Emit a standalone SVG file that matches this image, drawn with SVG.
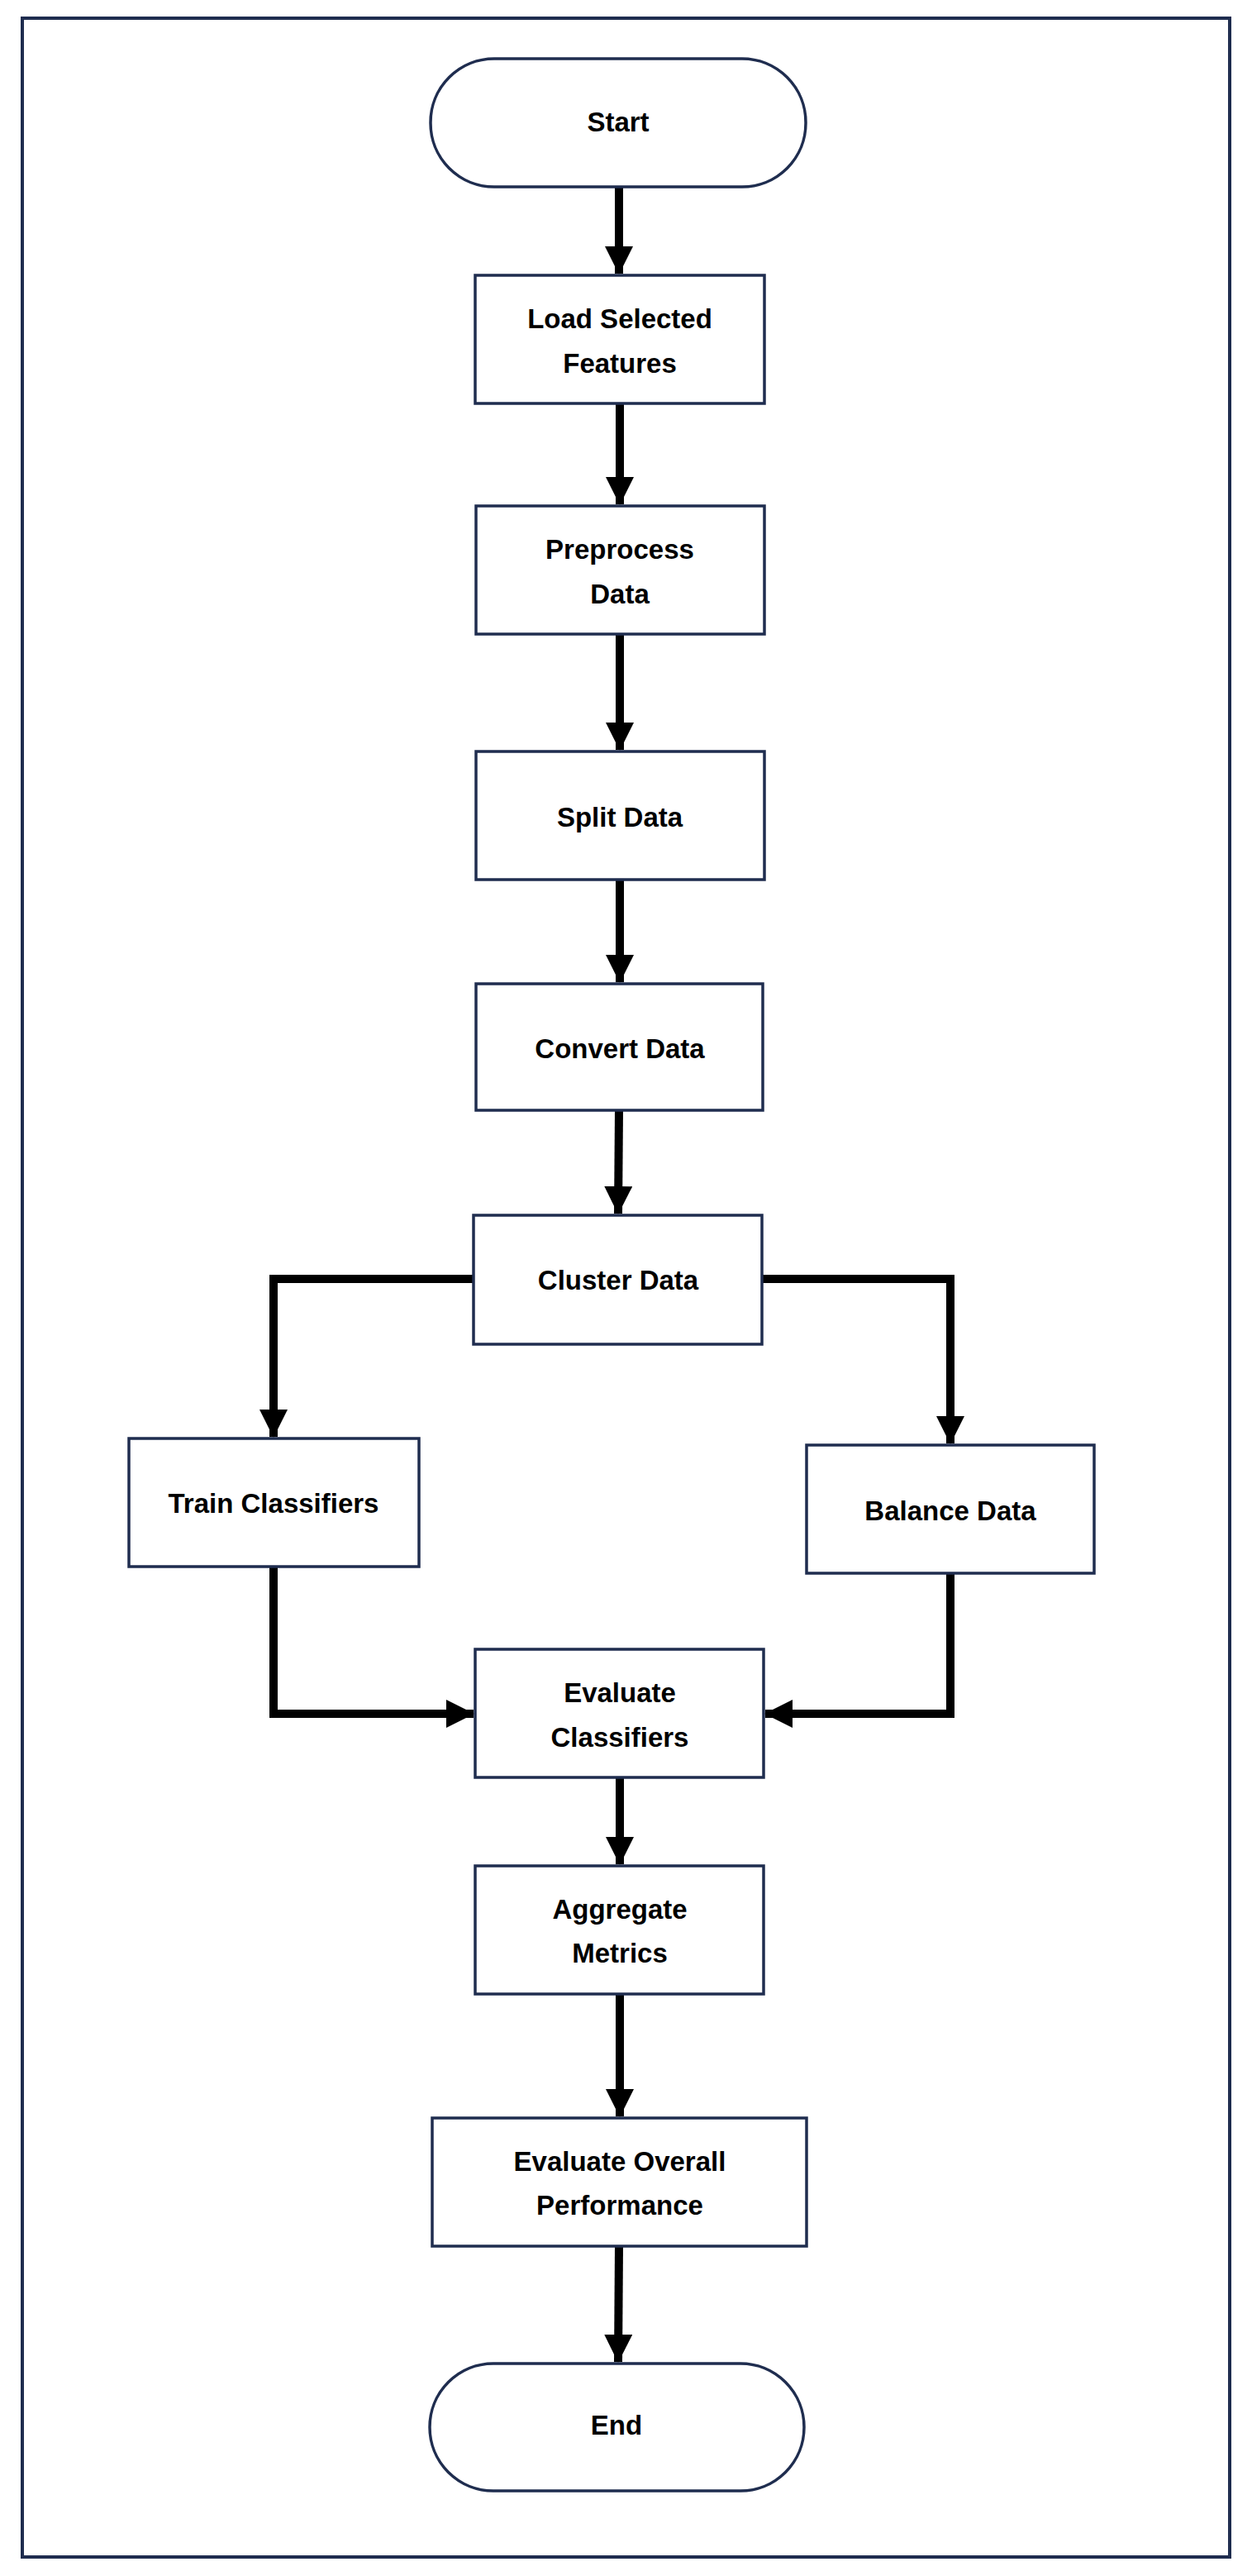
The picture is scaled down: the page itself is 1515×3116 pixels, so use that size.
<svg xmlns="http://www.w3.org/2000/svg" width="1515" height="3116" viewBox="0 0 1515 3116">
<style>
.b{fill:#fff;stroke:#1f2d4f;stroke-width:3.5}
.t{font-family:"Liberation Sans",Arial,sans-serif;font-weight:bold;font-size:33px;fill:#000;text-anchor:middle;dominant-baseline:central}
.c{fill:none;stroke:#000;stroke-width:10;stroke-linejoin:miter}
</style>
<defs>
<marker id="a" markerUnits="userSpaceOnUse" markerWidth="34" markerHeight="34" viewBox="0 0 34 34" refX="33" refY="17" orient="auto">
<path d="M0,0 L34,17 L0,34 Z" fill="#000"/>
</marker>
</defs>
<rect x="27" y="22" width="1461" height="3071" fill="#fff" stroke="#1f2d4f" stroke-width="4"/>
<g id="connectors">
<path class="c" d="M749,226 V331" marker-end="url(#a)"/>
<path class="c" d="M750,488 V610" marker-end="url(#a)"/>
<path class="c" d="M750,767 V907" marker-end="url(#a)"/>
<path class="c" d="M750,1064 V1188" marker-end="url(#a)"/>
<path class="c" d="M749,1343 L748,1468" marker-end="url(#a)"/>
<path class="c" d="M573,1547 H331 V1738" marker-end="url(#a)"/>
<path class="c" d="M922,1547 H1150 V1746" marker-end="url(#a)"/>
<path class="c" d="M331,1895 V2073 H573" marker-end="url(#a)"/>
<path class="c" d="M1150,1903 V2073 H926" marker-end="url(#a)"/>
<path class="c" d="M750,2150 V2255" marker-end="url(#a)"/>
<path class="c" d="M750,2412 V2560" marker-end="url(#a)"/>
<path class="c" d="M749,2717 L748,2857" marker-end="url(#a)"/>
</g>
<g id="start"><rect class="b" x="521" y="71" width="454" height="155" rx="77"/><text class="t" x="748" y="147">Start</text></g>
<g id="load"><rect class="b" x="575" y="333" width="350" height="155"/><text class="t" x="750" y="385">Load Selected</text><text class="t" x="750" y="439">Features</text></g>
<g id="preprocess"><rect class="b" x="576" y="612" width="349" height="155"/><text class="t" x="750" y="664">Preprocess</text><text class="t" x="750" y="718">Data</text></g>
<g id="split"><rect class="b" x="576" y="909" width="349" height="155"/><text class="t" x="750" y="988">Split Data</text></g>
<g id="convert"><rect class="b" x="576" y="1190" width="347" height="153"/><text class="t" x="750" y="1268">Convert Data</text></g>
<g id="cluster"><rect class="b" x="573" y="1470" width="349" height="156"/><text class="t" x="748" y="1548">Cluster Data</text></g>
<g id="train"><rect class="b" x="156" y="1740" width="351" height="155"/><text class="t" x="331" y="1818">Train Classifiers</text></g>
<g id="balance"><rect class="b" x="976" y="1748" width="348" height="155"/><text class="t" x="1150" y="1827">Balance Data</text></g>
<g id="evaluate"><rect class="b" x="575" y="1995" width="349" height="155"/><text class="t" x="750" y="2047">Evaluate</text><text class="t" x="750" y="2101">Classifiers</text></g>
<g id="aggregate"><rect class="b" x="575" y="2257" width="349" height="155"/><text class="t" x="750" y="2309">Aggregate</text><text class="t" x="750" y="2362">Metrics</text></g>
<g id="overall"><rect class="b" x="523" y="2562" width="453" height="155"/><text class="t" x="750" y="2614">Evaluate Overall</text><text class="t" x="750" y="2667">Performance</text></g>
<g id="end"><rect class="b" x="520" y="2859" width="453" height="154" rx="77"/><text class="t" x="746" y="2933">End</text></g>
</svg>
